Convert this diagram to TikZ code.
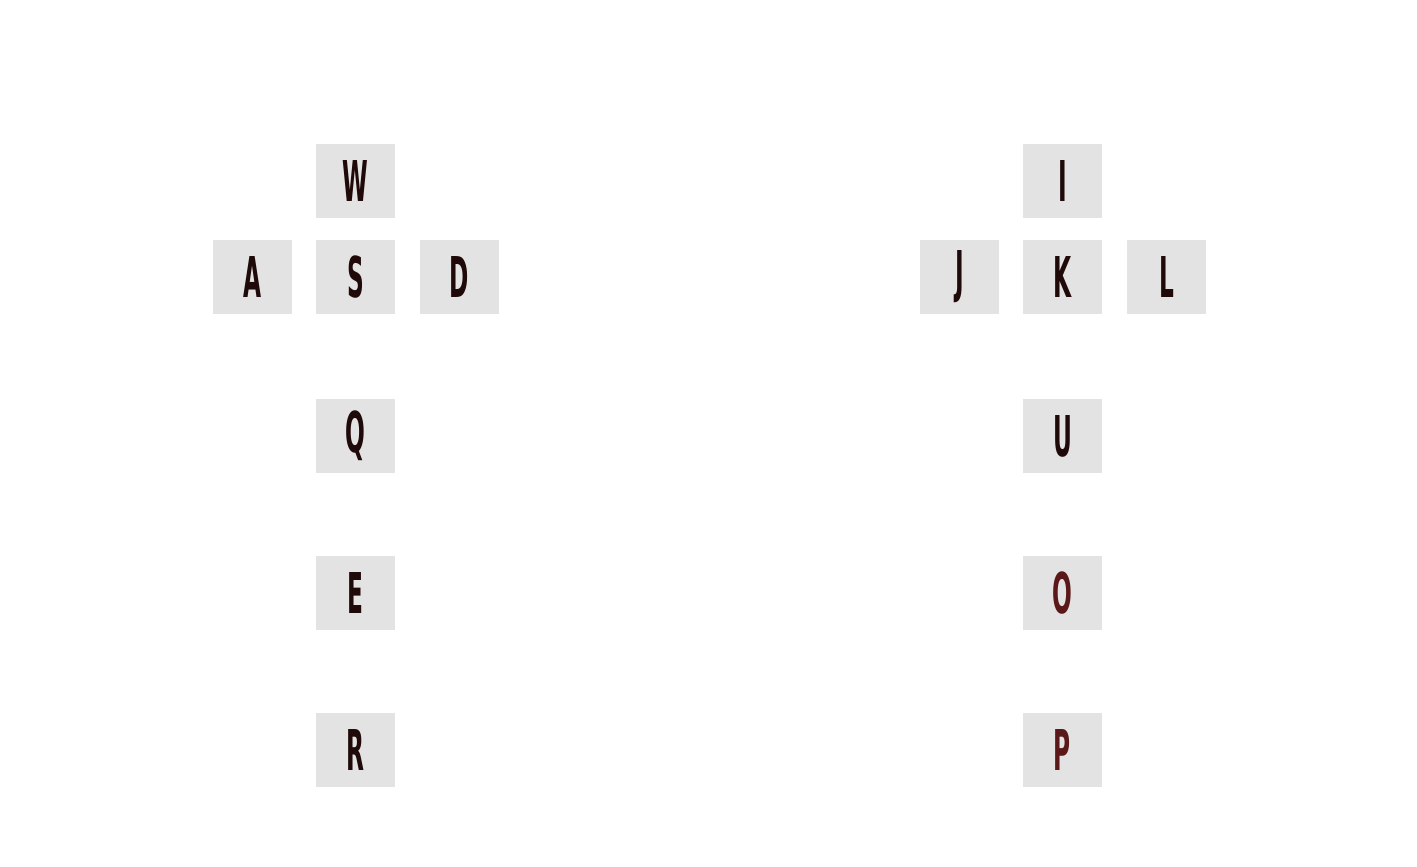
\documentclass[tikz,border=0pt]{standalone}
\usepackage{fontspec}
\setmainfont{DejaVu Sans Condensed}
\definecolor{keybg}{HTML}{E3E3E3}
\definecolor{ink}{HTML}{1F0909}
\definecolor{inkred}{HTML}{5A1818}
\newcommand{\keyglyph}[1]{\scalebox{0.46}[1]{\fontsize{32}{32}\selectfont\bfseries #1}}
\tikzset{
  keybox/.style={fill=keybg, draw=none, minimum width=1.58cm, minimum height=1.48cm, inner sep=0pt, text=ink},
  redkey/.style={keybox, text=inkred}
}
\begin{document}
\begin{tikzpicture}[x=0.02cm,y=-0.02cm]
\useasboundingbox (0,0) rectangle (1417,866);
% left cluster
\node[keybox] (w) at (355.5,181) {\keyglyph{W}};
\node[keybox] (a) at (252.5,277) {\keyglyph{A}};
\node[keybox] (s) at (355.5,277) {\keyglyph{S}};
\node[keybox] (d) at (459.5,277) {\keyglyph{D}};
\node[keybox] (q) at (355.5,436) {\keyglyph{Q}};
\node[keybox] (e) at (355.5,593) {\keyglyph{E}};
\node[keybox] (r) at (355.5,750) {\keyglyph{R}};
% right cluster
\node[keybox] (i) at (1062.5,181) {\keyglyph{I}};
\node[keybox] (j) at (959.5,277) {\keyglyph{J}};
\node[keybox] (k) at (1062.5,277) {\keyglyph{K}};
\node[keybox] (l) at (1166.5,277) {\keyglyph{L}};
\node[keybox] (u) at (1062.5,436) {\keyglyph{U}};
\node[redkey] (o) at (1062.5,593) {\keyglyph{O}};
\node[redkey] (p) at (1062.5,750) {\keyglyph{P}};
\end{tikzpicture}
\end{document}
